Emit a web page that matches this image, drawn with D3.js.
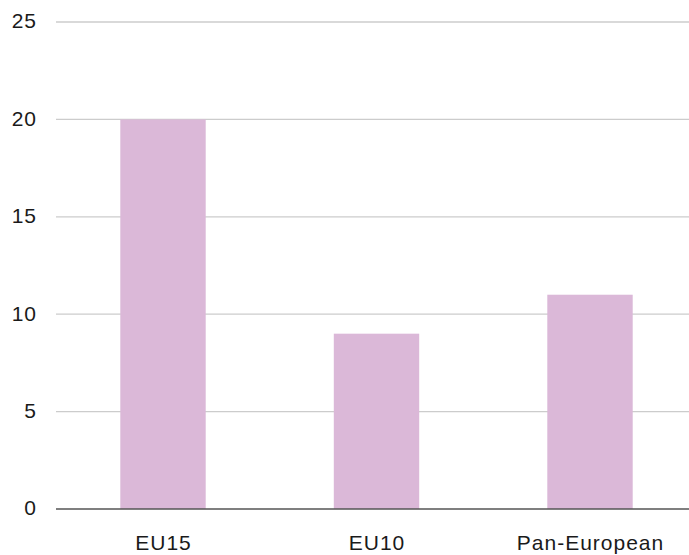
<!DOCTYPE html>
<html><head><meta charset="utf-8">
<script src="https://cdn.jsdelivr.net/npm/d3@7"></script>
<style>body{margin:0;background:#fff}svg{display:block}</style>
</head><body><svg id="c" width="689" height="555"></svg>
<script>
const categories = ["EU15", "EU10", "Pan-European"];
const values = [20, 9, 11];
const yTicks = [0, 5, 10, 15, 20, 25];

const svg = d3.select("#c");
const x = d3.scaleBand().domain(categories).range([56.25, 696.75]).paddingInner(0.6).paddingOuter(0.3);
const y = d3.scaleLinear().domain([0, 25]).range([509, 22]);

svg.append("g").selectAll("line").data(yTicks.filter(d => d > 0)).join("line")
  .attr("x1", 56).attr("x2", 689)
  .attr("y1", d => y(d)).attr("y2", d => y(d))
  .attr("stroke", "#cccccc").attr("stroke-width", 1.3);

svg.append("g").selectAll("rect").data(values).join("rect")
  .attr("x", (d, i) => x(categories[i]))
  .attr("width", x.bandwidth())
  .attr("y", d => y(d))
  .attr("height", d => y(0) - y(d))
  .attr("fill", "#dbb8d8");

svg.append("line").attr("x1", 56).attr("x2", 689).attr("y1", y(0)).attr("y2", y(0))
  .attr("stroke", "#555555").attr("stroke-width", 1.3);

const fontCss = "font-family:'Liberation Sans', Arial, sans-serif;font-size:21px;letter-spacing:1px";

svg.append("g").selectAll("text").data(yTicks).join("text")
  .attr("x", 37).attr("y", d => y(d)).attr("dy", "0.3em")
  .attr("text-anchor", "end")
  .attr("style", fontCss).attr("fill", "#1a1a1a")
  .text(d => d);

svg.append("g").selectAll("text").data(categories).join("text")
  .attr("x", d => x(d) + x.bandwidth() / 2 + 0.5).attr("y", 550)
  .attr("text-anchor", "middle")
  .attr("style", fontCss).attr("fill", "#1a1a1a")
  .text(d => d);
</script></body></html>
